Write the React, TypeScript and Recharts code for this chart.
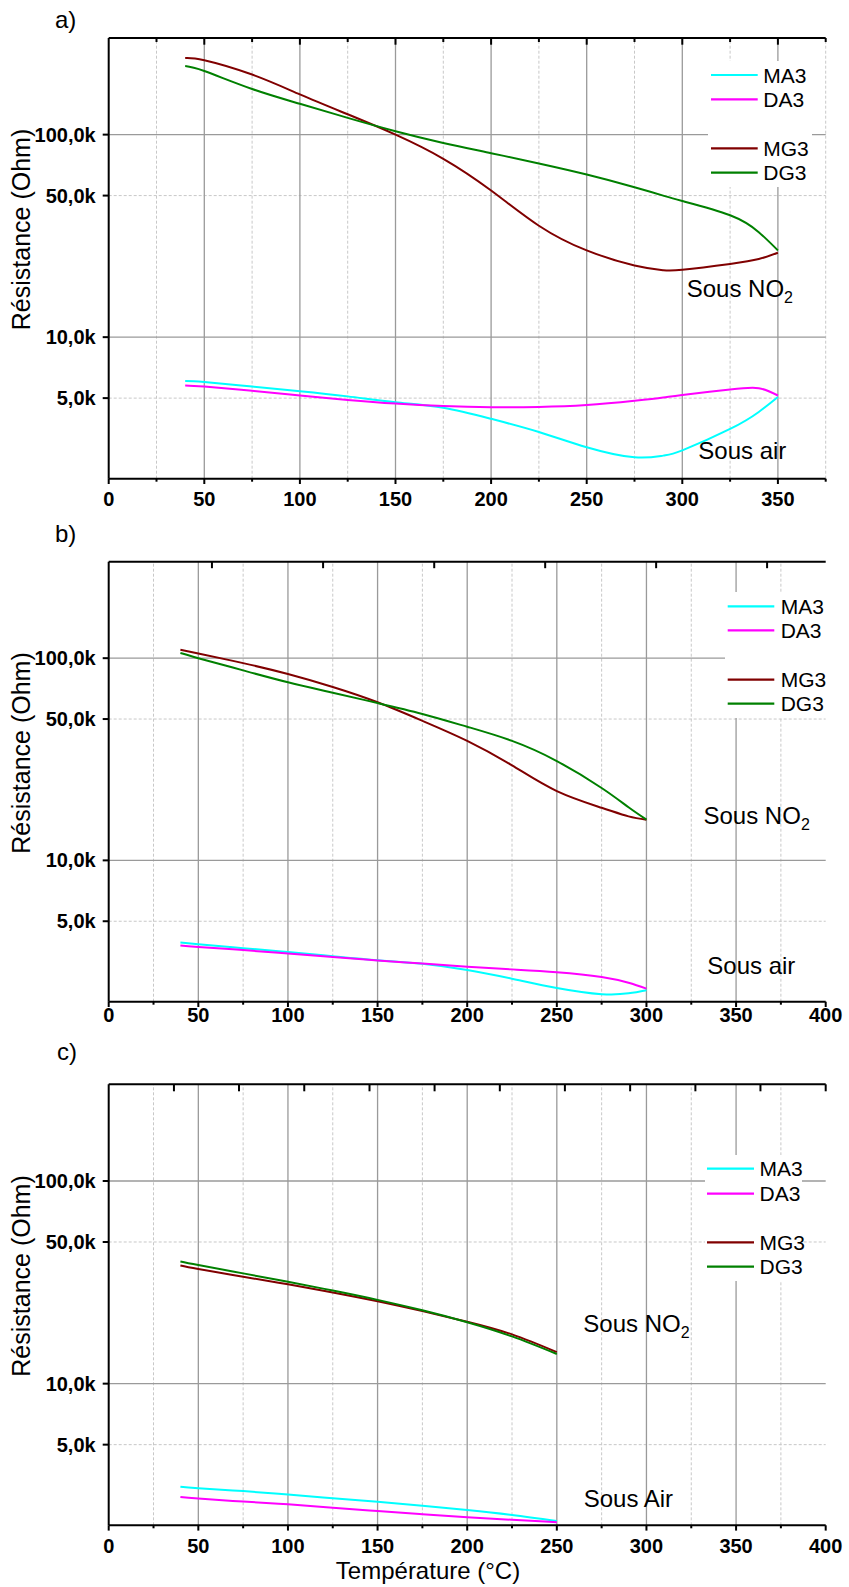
import React from "react";
import { LineChart, Line, XAxis, YAxis, ReferenceLine } from "recharts";

const FONT = "'Liberation Sans', Arial, Helvetica, sans-serif";

// a) — temperatures (°C) and resistances (Ohm)
const tempA = [40, 50, 75, 100, 125, 150, 175, 200, 225, 250, 275, 290, 300, 325, 340, 350];
const ma3A = [6070, 6000, 5700, 5410, 5100, 4770, 4480, 3950, 3400, 2860, 2550, 2600, 2760, 3520, 4270, 5060];
const da3A = [5770, 5700, 5430, 5150, 4900, 4700, 4570, 4510, 4520, 4620, 4850, 5030, 5180, 5520, 5600, 5150];
const mg3A = [239000, 233000, 198000, 158000, 126000, 100000, 76000, 53000, 35500, 26800, 22600, 21400, 21500, 23000, 24300, 26100];
const dg3A = [218000, 206000, 168000, 142000, 121000, 104000, 91000, 81000, 72000, 63500, 55000, 50000, 47000, 40000, 33000, 26800];

// b)
const tempB = [40, 50, 75, 100, 125, 150, 175, 200, 225, 250, 275, 290, 300];
const ma3B = [3920, 3850, 3680, 3520, 3360, 3210, 3080, 2870, 2600, 2340, 2180, 2200, 2280];
const da3B = [3790, 3730, 3600, 3460, 3330, 3200, 3090, 2980, 2890, 2800, 2650, 2480, 2320];
const mg3B = [110000, 105500, 94500, 83500, 72000, 60500, 49000, 39000, 29500, 22000, 18200, 16500, 15900];
const dg3B = [106000, 100000, 87000, 76000, 67500, 60000, 53000, 45800, 39000, 31000, 22800, 18300, 15900];

// c)
const tempC = [40, 50, 75, 100, 125, 150, 175, 200, 225, 250];
const ma3C = [3100, 3050, 2950, 2840, 2720, 2610, 2500, 2380, 2250, 2100];
const da3C = [2760, 2710, 2620, 2540, 2440, 2350, 2270, 2190, 2130, 2070];
const mg3C = [38300, 36800, 33700, 30900, 28200, 25500, 22800, 20200, 17500, 14300];
const dg3C = [40100, 38500, 35000, 31800, 28800, 25900, 23000, 20100, 17100, 14000];

const seriesNames = ["MA3", "DA3", "MG3", "DG3"];
const seriesColors = ["#00ffff", "#ff00ff", "#800000", "#008000"];

// axes
const yTicks = [5000, 10000, 50000, 100000];
const yMajorGrid = [10000, 100000];
const yMinorGrid = [5000, 50000];
const xTicksA = [0, 25, 50, 75, 100, 125, 150, 175, 200, 225, 250, 275, 300, 325, 350, 375];
const xTicksBC = [0, 25, 50, 75, 100, 125, 150, 175, 200, 225, 250, 275, 300, 325, 350, 375, 400];
const xMajorGrid = [50, 100, 150, 200, 250, 300, 350];
const xMinorGrid = [25, 75, 125, 175, 225, 275, 325, 375];
const topTicksA = [25, 50, 75, 100, 125, 150, 175, 200, 225, 250, 275, 300, 325, 350, 375];
const topTicksB = [57.6, 119.6, 181.6, 243.5, 305.4, 367.3];
const topTicksC = [36.4, 72.7, 109.1, 145.5, 181.8, 218.2, 254.5, 290.9, 327.3, 363.6, 400];

type Row = { t: number; MA3: number; DA3: number; MG3: number; DG3: number };

function rows(t: number[], ma: number[], da: number[], mg: number[], dg: number[]): Row[] {
  return t.map((x, i) => ({ t: x, MA3: ma[i], DA3: da[i], MG3: mg[i], DG3: dg[i] }));
}

type Panel = {
  top: number;
  height: number;
  plotTop: number;
  xHeight: number;
  xMax: number;
  data: Row[];
  xTicks: number[];
  topTicks: number[];
  topMajor: number;
  topMinor: number;
  labelGap: number;
};

const panels: Panel[] = [
  { top: 0, height: 520, plotTop: 38, xHeight: 41.3, xMax: 375, data: rows(tempA, ma3A, da3A, mg3A, dg3A), xTicks: xTicksA, topTicks: topTicksA, topMajor: 6.7, topMinor: 4, labelGap: 13 },
  { top: 520, height: 520, plotTop: 41.7, xHeight: 38.3, xMax: 400, data: rows(tempB, ma3B, da3B, mg3B, dg3B), xTicks: xTicksBC, topTicks: topTicksB, topMajor: 6.5, topMinor: 6.5, labelGap: 6 },
  { top: 1040, height: 547, plotTop: 44.3, xHeight: 61.7, xMax: 400, data: rows(tempC, ma3C, da3C, mg3C, dg3C), xTicks: xTicksBC, topTicks: topTicksC, topMajor: 7, topMinor: 7, labelGap: 13 },
];

function PanelChart({ p }: { p: Panel }) {
  return (
    <div style={{ position: "absolute", left: 0, top: p.top }}>
      <LineChart
        width={849}
        height={p.height}
        data={p.data}
        margin={{ top: p.plotTop - 1, right: 23.3, bottom: 0, left: 0 }}
      >
        {xMinorGrid.map((v) => (
          <ReferenceLine key={"xm" + v} x={v} stroke="#c8c8c8" strokeDasharray="3 2" />
        ))}
        {yMinorGrid.map((v) => (
          <ReferenceLine key={"ym" + v} y={v} stroke="#c8c8c8" strokeDasharray="3 2" />
        ))}
        {xMajorGrid.map((v) => (
          <ReferenceLine key={"xM" + v} x={v} stroke="#9a9a9a" strokeWidth={1.3} />
        ))}
        {yMajorGrid.map((v) => (
          <ReferenceLine key={"yM" + v} y={v} stroke="#9a9a9a" strokeWidth={1.3} />
        ))}
        {seriesNames.map((s, i) => (
          <Line
            key={s}
            type="natural"
            dataKey={s}
            stroke={seriesColors[i]}
            strokeWidth={2}
            dot={false}
            isAnimationActive={false}
          />
        ))}
        <XAxis
          type="number"
          dataKey="t"
          domain={[0, p.xMax]}
          ticks={p.xTicks}
          interval={0}
          height={p.xHeight}
          tickSize={0}
          tickMargin={0}
          tickLine={false}
          axisLine={{ stroke: "#000", strokeWidth: 2 }}
          allowDataOverflow
          tick={(t: any) => {
            const v = t.payload.value;
            const major = v % 50 === 0;
            return (
              <g>
                <line x1={t.x} x2={t.x} y1={t.y} y2={t.y + (major ? 5.3 : 3)} stroke="#000" strokeWidth={2} />
                {major && (
                  <text
                    x={t.x}
                    y={t.y + p.labelGap}
                    dy="0.71em"
                    textAnchor="middle"
                    fontSize={20}
                    fontWeight="bold"
                    fontFamily={FONT}
                    fill="#000"
                  >
                    {v}
                  </text>
                )}
              </g>
            );
          }}
        />
        <XAxis
          xAxisId="top"
          orientation="top"
          type="number"
          dataKey="t"
          domain={[0, p.xMax]}
          ticks={p.topTicks}
          interval={0}
          height={1}
          tickSize={0}
          tickMargin={0}
          tickLine={false}
          axisLine={{ stroke: "#000", strokeWidth: 2 }}
          allowDataOverflow
          tick={(t: any) => {
            const v = t.payload.value;
            const len = v % 50 === 0 ? p.topMajor : p.topMinor;
            return <line x1={t.x} x2={t.x} y1={t.y} y2={t.y + len} stroke="#000" strokeWidth={2} />;
          }}
        />
        <YAxis
          scale="log"
          type="number"
          domain={[2000, 300000]}
          ticks={yTicks}
          interval={0}
          width={108.7}
          allowDataOverflow
          tickSize={6}
          tickMargin={7}
          tickLine={{ stroke: "#000", strokeWidth: 2 }}
          axisLine={{ stroke: "#000", strokeWidth: 2 }}
          tickFormatter={(v: number) => `${v / 1000},0k`}
          tick={{ fontSize: 20, fontWeight: "bold", fill: "#000", fontFamily: FONT }}
        />
      </LineChart>
    </div>
  );
}

// legend boxes / rows and text labels of each panel (page coordinates)
const legends = [
  { box: [708, 61, 104, 126], x1: 711, x2: 757.7, tx: 763.3, rows: [75, 99.3, 148.3, 172.7] },
  { box: [725, 592, 101, 126], x1: 727.7, x2: 774.3, tx: 780.7, rows: [606.3, 630.3, 679.7, 703.7] },
  { box: [705, 1155, 97, 126], x1: 707, x2: 754, tx: 759.5, rows: [1168.7, 1193.7, 1242.3, 1266.7] },
];

const gasLabels = [
  { x: 686.7, y: 297, text: "Sous NO", sub: "2" },
  { x: 698.3, y: 459.3, text: "Sous air", sub: "" },
  { x: 703.5, y: 824, text: "Sous NO", sub: "2" },
  { x: 707.3, y: 974.3, text: "Sous air", sub: "" },
  { x: 583.3, y: 1331.7, text: "Sous NO", sub: "2" },
  { x: 583.7, y: 1506.7, text: "Sous Air", sub: "" },
];

const panelLetters = [
  { x: 55, y: 28.3, text: "a)" },
  { x: 55, y: 541.7, text: "b)" },
  { x: 57, y: 1060, text: "c)" },
];

const yTitleCenters = [229.5, 753, 1276];

export default function App() {
  return (
    <div
      style={{
        position: "absolute",
        left: 0,
        top: 0,
        width: 849,
        height: 1587,
        background: "#fff",
        fontFamily: FONT,
      }}
    >
      {panels.map((p, i) => (
        <PanelChart key={i} p={p} />
      ))}
      <svg
        width={849}
        height={1587}
        style={{ position: "absolute", left: 0, top: 0, pointerEvents: "none" }}
        fontFamily={FONT}
      >
        {legends.map((l, i) => (
          <g key={"lg" + i}>
            <rect x={l.box[0]} y={l.box[1]} width={l.box[2]} height={l.box[3]} fill="#fff" />
            {seriesNames.map((s, j) => (
              <g key={s}>
                <line x1={l.x1} x2={l.x2} y1={l.rows[j]} y2={l.rows[j]} stroke={seriesColors[j]} strokeWidth={2.2} />
                <text x={l.tx} y={l.rows[j] + 7.5} fontSize={21} fill="#000">
                  {s}
                </text>
              </g>
            ))}
          </g>
        ))}
        {gasLabels.map((g, i) => (
          <text key={"gl" + i} x={g.x} y={g.y} fontSize={24} fill="#000">
            {g.text}
            {g.sub && (
              <tspan fontSize={16} dy={6}>
                {g.sub}
              </tspan>
            )}
          </text>
        ))}
        {panelLetters.map((l) => (
          <text key={l.text} x={l.x} y={l.y} fontSize={24} fill="#000">
            {l.text}
          </text>
        ))}
        {yTitleCenters.map((cy, i) => (
          <text
            key={"yt" + i}
            x={30}
            y={cy}
            transform={`rotate(-90 30 ${cy})`}
            textAnchor="middle"
            fontSize={25}
            fill="#000"
          >
            Résistance (Ohm)
          </text>
        ))}
        <text x={428} y={1579} textAnchor="middle" fontSize={24} fill="#000">
          Température (°C)
        </text>
      </svg>
    </div>
  );
}
